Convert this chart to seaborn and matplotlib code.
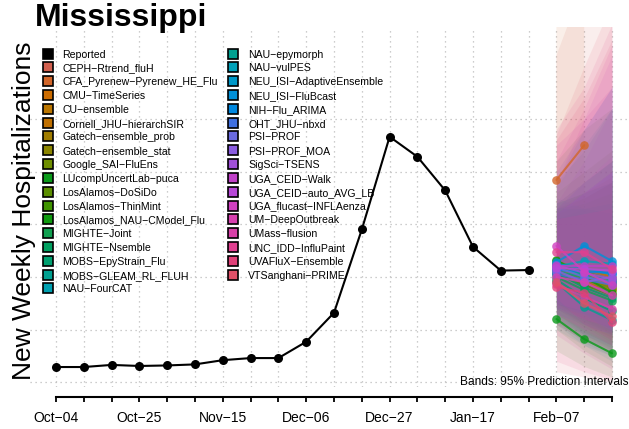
import numpy as np
import pandas as pd
import matplotlib
matplotlib.use("Agg")
import matplotlib.pyplot as plt
from matplotlib.lines import Line2D
import seaborn as sns

sns.set_style("white")
plt.rcParams['font.family'] = ['Liberation Sans', 'DejaVu Sans']
plt.rcParams['text.color'] = 'black'
plt.rcParams['xtick.color'] = 'black'

# weeks from Oct-04 to Feb-21 (epiweek end dates)
dates = pd.date_range("2025-10-04", periods=21, freq="7D")
week_labels = [d.strftime("%b-%d").replace("-", "\u2212") for d in dates]

# reported weekly hospitalizations, Oct-04 .. Jan-31
reported = [29, 29, 33, 31, 32, 34, 42, 46, 46, 77, 132, 290, 466, 428, 364, 257, 212, 213]

# forecast horizons (Feb-07, Feb-14, Feb-21)
fc_weeks = [18, 19, 20]

models = [
    "CEPH\u2212Rtrend_fluH", "CFA_Pyrenew\u2212Pyrenew_HE_Flu", "CMU\u2212TimeSeries",
    "CU\u2212ensemble", "Cornell_JHU\u2212hierarchSIR", "Gatech\u2212ensemble_prob",
    "Gatech\u2212ensemble_stat", "Google_SAI\u2212FluEns", "LUcompUncertLab\u2212puca",
    "LosAlamos\u2212DoSiDo", "LosAlamos\u2212ThinMint", "LosAlamos_NAU\u2212CModel_Flu",
    "MIGHTE\u2212Joint", "MIGHTE\u2212Nsemble", "MOBS\u2212EpyStrain_Flu",
    "MOBS\u2212GLEAM_RL_FLUH", "NAU\u2212FourCAT", "NAU\u2212epymorph", "NAU\u2212vulPES",
    "NEU_ISI\u2212AdaptiveEnsemble", "NEU_ISI\u2212FluBcast", "NIH\u2212Flu_ARIMA",
    "OHT_JHU\u2212nbxd", "PSI\u2212PROF", "PSI\u2212PROF_MOA", "SigSci\u2212TSENS",
    "UGA_CEID\u2212Walk", "UGA_CEID\u2212auto_AVG_LB", "UGA_flucast\u2212INFLAenza",
    "UM\u2212DeepOutbreak", "UMass\u2212flusion", "UNC_IDD\u2212InfluPaint",
    "UVAFluX\u2212Ensemble", "VTSanghani\u2212PRIME",
]

model_colors = [
    "#d2604f", "#d2662a", "#cc6c00", "#bb7600", "#c07000", "#a07c00", "#8c8600",
    "#6f8f00", "#0a9a1a", "#5c8f00", "#3f9400", "#0f9a0f", "#10a050", "#00a060",
    "#00a070", "#00a090", "#00a0b0", "#00a090", "#00a0b8", "#0098c8", "#0090d8",
    "#0088e0", "#4070e0", "#6a6ae0", "#8a5ce0", "#a050d8", "#c040c8", "#b848d8",
    "#d040c0", "#d840b0", "#d840a8", "#e04090", "#e04078", "#e05068",
]

nan = np.nan
# medians
med_feb07 = [215, 384, 220, 225, 210, 218, 222, 212, 120, 230, 205, 232, 200, 208, 195, 190, 215,
             210, 220, 225, 228, 213, 205, 218, 212, 222, 220, 217, 259, 200, 186, 247, 181, 190]
med_feb14 = [200, 450, 205, 215, 190, 198, 206, 195, 82, 210, 185, 200, 175, 180, 160, 143, 205,
             200, 230, 215, 259, 210, 195, 200, 190, 208, 220, 215, 210, 190, 162, 247, 170, 150]
med_feb21 = [185, nan, 190, 200, 175, 180, 188, 178, 55, 195, 165, 170, 155, 160, 135, 118, 195,
             190, 225, 205, 230, 208, 185, 190, 200, 196, 220, 212, 185, 165, 140, 215, 114, 125]
# 95% interval bounds
lo_feb07 = [120, 250, 150, 140, 130, 145, 150, 140, 60, 150, 110, 100, 120, 130, 115, 110, 140,
            100, 130, 150, 140, 150, 120, 140, 130, 145, 140, 150, 160, 90, 110, 130, 40, 20]
lo_feb14 = [90, 260, 120, 110, 95, 110, 120, 105, 30, 115, 80, 60, 85, 90, 75, 70, 115,
            70, 110, 125, 130, 130, 90, 110, 100, 120, 120, 135, 110, 55, 80, 100, 20, 10]
lo_feb21 = [60, nan, 95, 80, 70, 85, 90, 75, 10, 90, 55, 30, 60, 65, 50, 40, 95,
            50, 90, 100, 95, 115, 70, 90, 95, 100, 105, 120, 80, 25, 55, 70, 5, 0]
hi_feb07 = [620, 900, 330, 340, 320, 310, 320, 330, 230, 360, 340, 420, 330, 330, 340, 350, 330,
            380, 370, 340, 380, 320, 400, 330, 340, 330, 380, 320, 450, 420, 310, 480, 460, 470]
hi_feb14 = [760, 1100, 360, 380, 350, 330, 340, 350, 220, 400, 360, 480, 340, 330, 360, 330, 380,
            440, 450, 380, 480, 360, 480, 360, 420, 380, 500, 360, 500, 520, 320, 560, 540, 600]
hi_feb21 = [950, nan, 390, 420, 380, 350, 360, 380, 200, 440, 380, 520, 360, 340, 380, 320, 420,
            520, 520, 420, 560, 400, 560, 400, 520, 430, 620, 400, 560, 640, 330, 680, 650, 720]

grid_values = [0, 100, 200, 300, 400, 500]

# long table for the median lines
rows = []
for i, m in enumerate(models):
    for w, v in zip(fc_weeks, [med_feb07[i], med_feb14[i], med_feb21[i]]):
        rows.append({"model": m, "week": w, "value": v})
fc_df = pd.DataFrame(rows).dropna()
rep_df = pd.DataFrame({"week": np.arange(len(reported)), "value": reported})

fig = plt.figure(figsize=(6.29, 4.29), dpi=100)
ax = fig.add_axes([30 / 629, 42 / 429, 599 / 629, 360.3 / 429])

# grid
for g in grid_values:
    ax.axhline(g, color="#bdbdbd", lw=0.9, ls=(0, (1, 3)), zorder=0)
for w in range(len(dates)):
    ax.axvline(w, color="#bdbdbd", lw=0.9, ls=(0, (1, 3)), zorder=0)

# prediction bands
for i, m in enumerate(models):
    lo = np.array([lo_feb07[i], lo_feb14[i], lo_feb21[i]], dtype=float)
    hi = np.array([hi_feb07[i], hi_feb14[i], hi_feb21[i]], dtype=float)
    ok = ~np.isnan(lo)
    ax.fill_between(np.array(fc_weeks)[ok], lo[ok], hi[ok], color=model_colors[i],
                    alpha=0.1, lw=0, zorder=1)

# medians
sns.lineplot(data=fc_df, x="week", y="value", hue="model", hue_order=models,
             palette=model_colors, marker="o", markersize=6.2, markeredgewidth=0,
             lw=1.5, alpha=0.8, legend=False, sort=False, estimator=None, ax=ax, zorder=3)

# reported
sns.lineplot(data=rep_df, x="week", y="value", color="black", marker="o", markersize=6.5,
             markeredgewidth=0, lw=1.5, ax=ax, zorder=4)

ax.set_xlim(-0.935, 20.61)
ax.set_ylim(-8.9, 674.8)
ax.set_xlabel("")
ax.set_ylabel("")
ax.set_yticks([])
ax.set_xticks(range(len(dates)))
ax.set_xticklabels([lab if i % 3 == 0 else "" for i, lab in enumerate(week_labels)], fontsize=11)
ax.tick_params(axis="x", bottom=True, direction="out", length=3.6, width=1.3, pad=6.5,
               colors="black")
for s in ["top", "left", "right"]:
    ax.spines[s].set_visible(False)
ax.spines["bottom"].set_position(("outward", 7))
ax.spines["bottom"].set_bounds(0, 20)
ax.spines["bottom"].set_linewidth(1.5)
ax.spines["bottom"].set_color("black")

ax.text(0.9985, 0.015, "Bands: 95% Prediction Intervals", transform=ax.transAxes,
        ha="right", va="center", fontsize=8.6, color="black")

# legend
handles = [Line2D([], [], ls="none", marker="s", markersize=6.5, markerfacecolor="black",
                  markeredgecolor="black", markeredgewidth=1.2)]
for c in model_colors:
    handles.append(Line2D([], [], ls="none", marker="s", markersize=6.5, markerfacecolor=c,
                          markeredgecolor="black", markeredgewidth=1.2))
leg = ax.legend(handles, ["Reported"] + models, ncol=2, loc="upper left",
                bbox_to_anchor=(43 / 629, 1 - 49.5 / 429), bbox_transform=fig.transFigure,
                frameon=False, fontsize=7.6, handlelength=0.9, handleheight=0.9,
                handletextpad=0.95, columnspacing=1.0, labelspacing=0.36,
                borderpad=0, borderaxespad=0)
for t in leg.get_texts():
    t.set_color("black")

fig.text(35 / 629, 1 - 18 / 429, "Mississippi", fontsize=23, fontweight="bold",
         ha="left", va="center", color="black")
fig.text(24 / 629, 1 - 211 / 429, "New Weekly Hospitalizations", fontsize=19,
         rotation=90, ha="center", va="center", color="black")

fig.savefig("out.png", dpi=100)
